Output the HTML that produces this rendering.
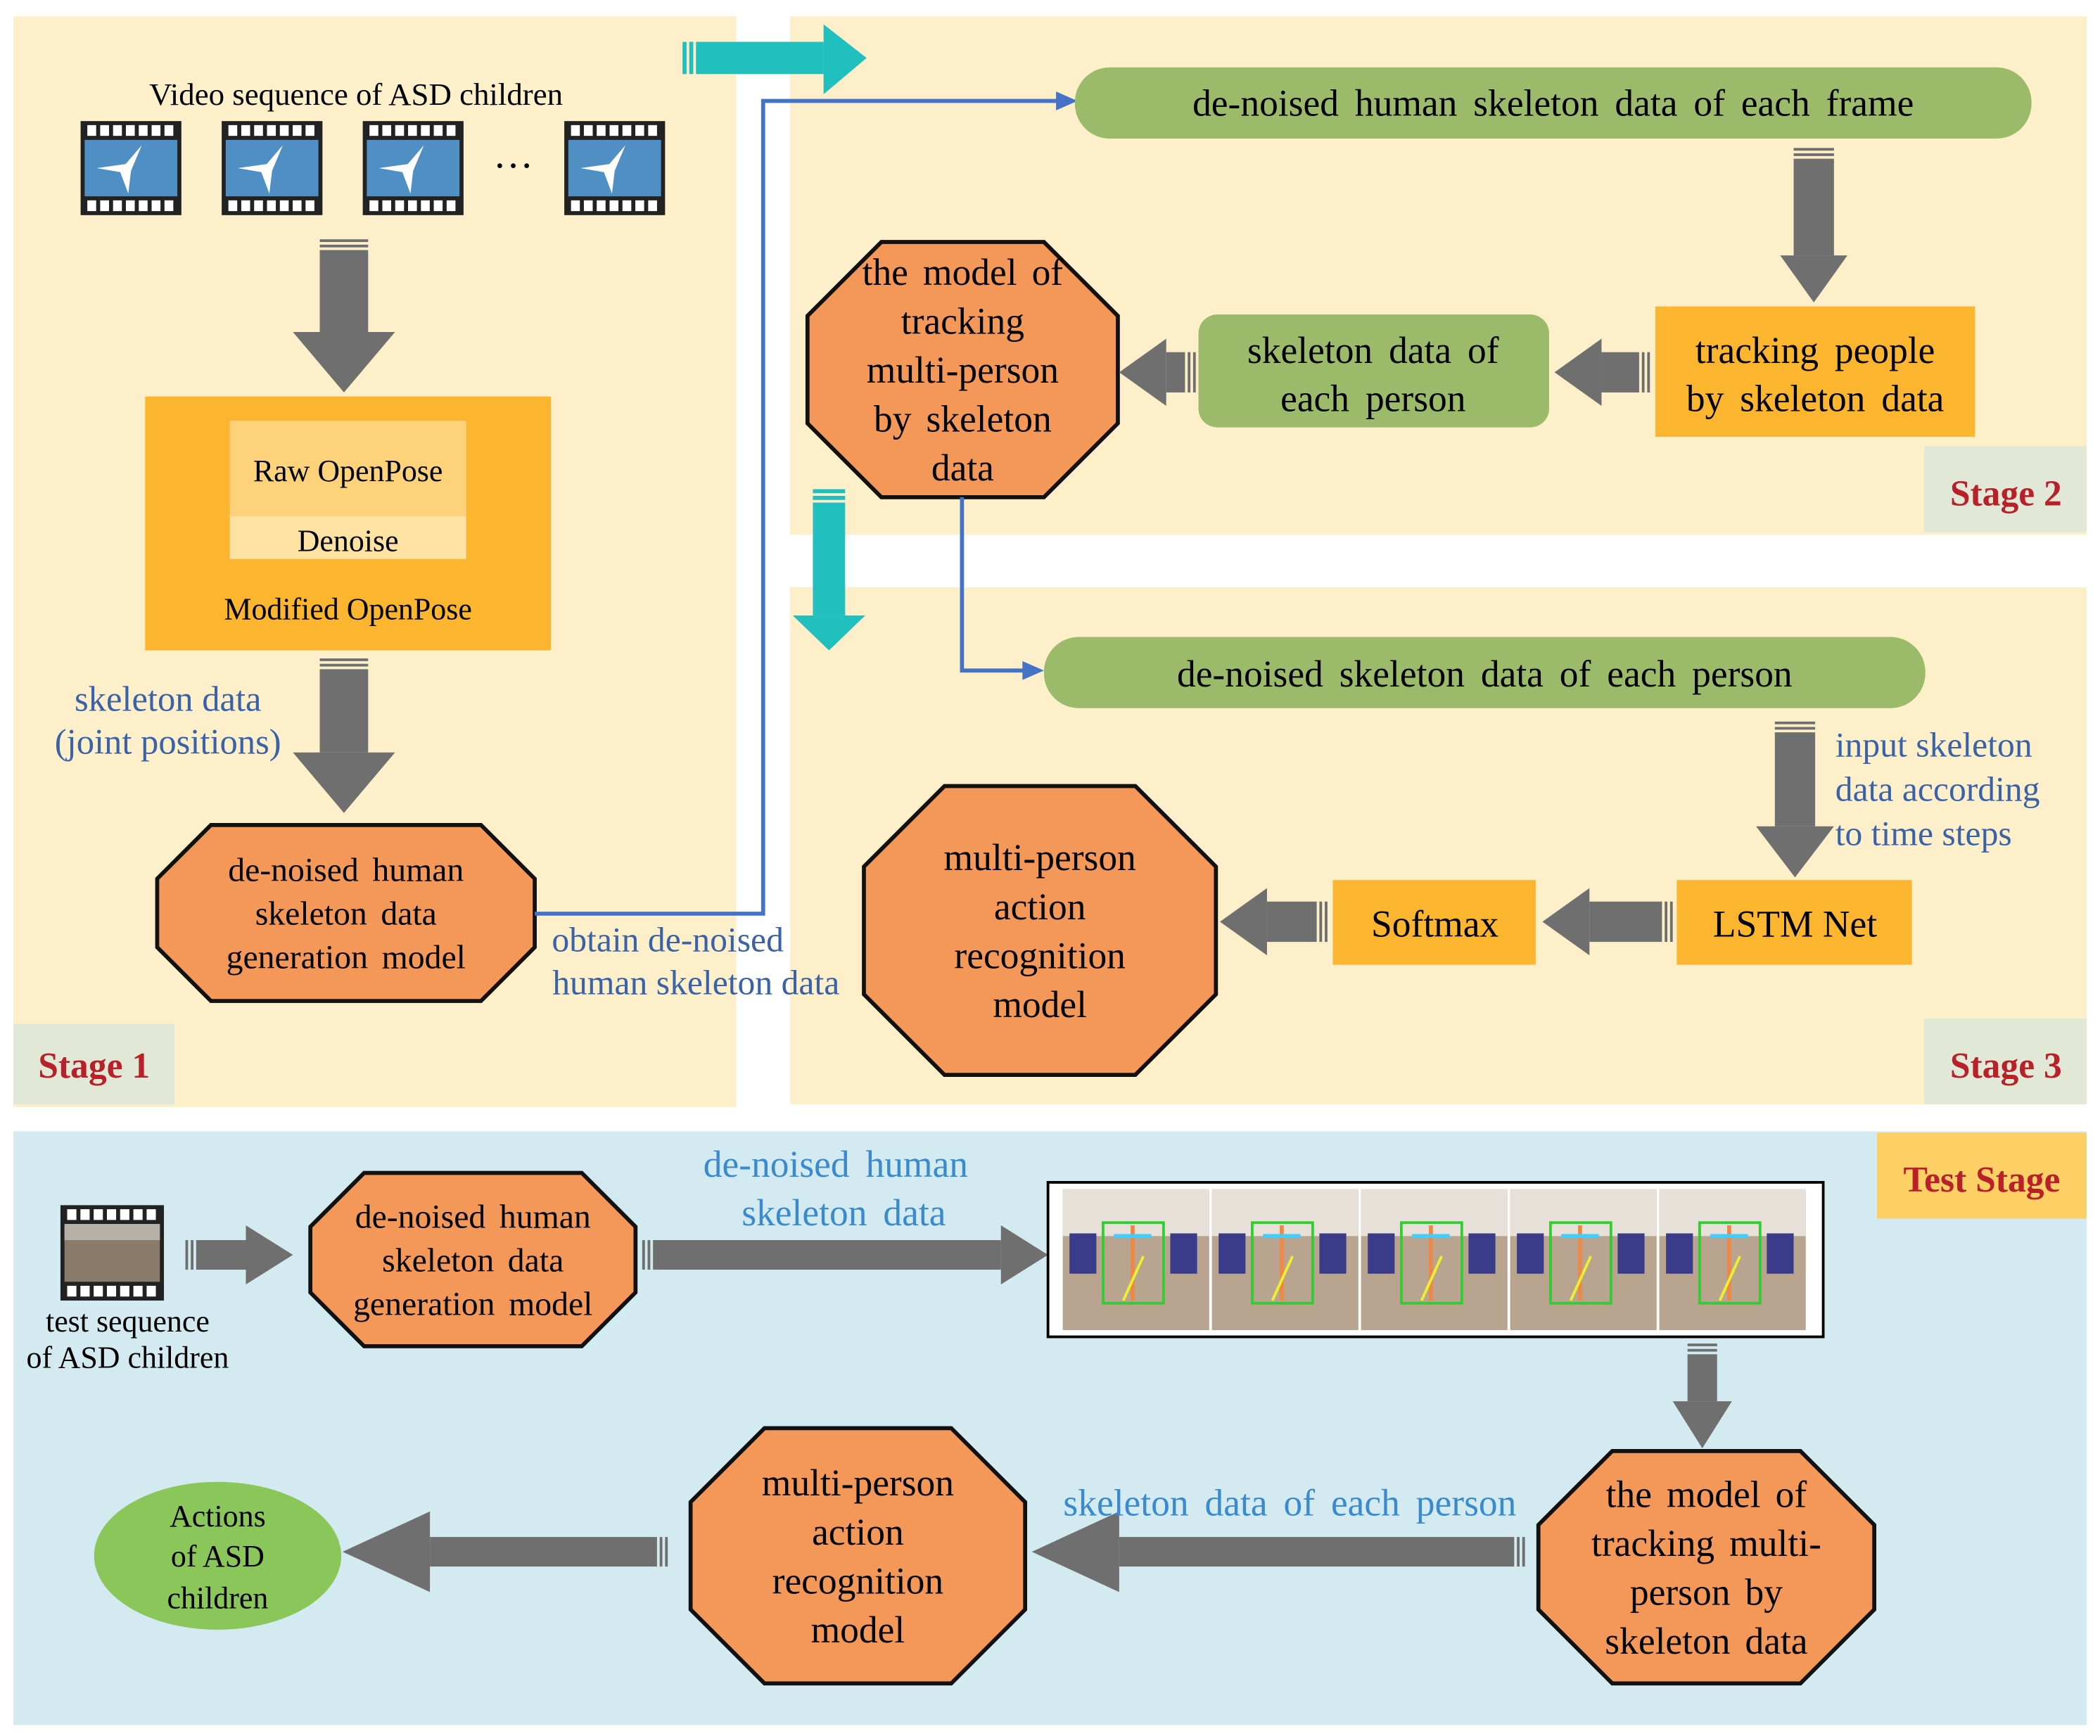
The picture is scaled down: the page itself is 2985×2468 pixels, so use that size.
<!DOCTYPE html>
<html><head><meta charset="utf-8"><style>
html,body{margin:0;padding:0;background:#fff}
svg{display:block}
text{font-family:"Liberation Serif",serif}
</style></head><body>
<svg id="s" width="2985" height="2468" viewBox="0 0 1563 1292" xmlns="http://www.w3.org/2000/svg">
<rect width="1563" height="1292" fill="#fff"/>
<rect x="10" y="12" width="538" height="812" fill="#fdefc9"/>
<rect x="588" y="12" width="965" height="386" fill="#fdefc9"/>
<rect x="588" y="437" width="965" height="385" fill="#fdefc9"/>
<rect x="10" y="842" width="1543" height="442" fill="#d3eaf0"/>
<rect x="10" y="762" width="120" height="60" fill="#e2e8d6"/>
<text x="70" y="802" font-size="27" font-weight="bold" fill="#b8202a" text-anchor="middle">Stage 1</text>
<rect x="1432" y="332" width="121" height="64" fill="#e2e8d6"/>
<text x="1493" y="376" font-size="27" font-weight="bold" fill="#b8202a" text-anchor="middle">Stage 2</text>
<rect x="1432" y="758" width="121" height="64" fill="#e2e8d6"/>
<text x="1493" y="802" font-size="27" font-weight="bold" fill="#b8202a" text-anchor="middle">Stage 3</text>
<rect x="1397" y="843" width="156" height="64" fill="#fdd065"/>
<text x="1475" y="887" font-size="27" font-weight="bold" fill="#b8202a" text-anchor="middle">Test Stage</text>

<g id="films"></g>
<text x="265" y="78" font-size="23.5" text-anchor="middle">Video sequence of ASD children</text>
<text x="382" y="133" font-size="30" text-anchor="middle">···</text>

<rect x="108" y="295" width="302" height="189" fill="#fbb52f"/>
<rect x="171" y="313" width="176" height="71" fill="#fdd27a"/>
<rect x="171" y="384" width="176" height="32" fill="#fde2a3"/>
<text x="259" y="358" font-size="23" text-anchor="middle">Raw OpenPose</text>
<text x="259" y="410" font-size="23" text-anchor="middle">Denoise</text>
<text x="259" y="461" font-size="23" text-anchor="middle">Modified OpenPose</text>

<text x="125" y="529" font-size="26.5" fill="#3a62a8" text-anchor="middle">skeleton data</text>
<text x="125" y="561" font-size="26.5" fill="#3a62a8" text-anchor="middle">(joint positions)</text>

<g id="octs"></g>
<g id="arrows"></g>

<polyline points="398,680 568,680 568,75 792,75" fill="none" stroke="#4472c4" stroke-width="3"/>
<polygon points="802,75 786,68 786,82" fill="#4472c4"/>
<polyline points="716,370 716,499 767,499" fill="none" stroke="#4472c4" stroke-width="3"/>
<polygon points="777,499 761,492 761,506" fill="#4472c4"/>
<text x="497" y="708" font-size="26" fill="#3a62a8" text-anchor="middle">obtain de-noised</text>
<text x="518" y="740" font-size="26" fill="#3a62a8" text-anchor="middle">human skeleton data</text>

<g fill="#22bfbf">
<rect x="508" y="31" width="3" height="24"/><rect x="513" y="31" width="3" height="24"/><rect x="518" y="31" width="95" height="24"/>
<polygon points="613,18 645,43 613,70"/>
<rect x="605" y="364" width="24" height="3"/><rect x="605" y="369" width="24" height="3"/><rect x="605" y="374" width="24" height="84"/>
<polygon points="590,458 644,458 617,484"/>
</g>

<g word-spacing="5">
<rect x="800" y="50" width="712" height="53" rx="26" fill="#9bbb6a"/>
<text x="1156" y="86" font-size="28" text-anchor="middle">de-noised human skeleton data of each frame</text>
<rect x="1232" y="228" width="238" height="97" fill="#fbb52f"/>
<text x="1351" y="270" font-size="28" text-anchor="middle">tracking people</text>
<text x="1351" y="306" font-size="28" text-anchor="middle">by skeleton data</text>
<rect x="892" y="234" width="261" height="84" rx="14" fill="#9bbb6a"/>
<text x="1022" y="270" font-size="28" text-anchor="middle">skeleton data of</text>
<text x="1022" y="306" font-size="28" text-anchor="middle">each person</text>

<rect x="777" y="474" width="656" height="53" rx="26" fill="#9bbb6a"/>
<text x="1105" y="511" font-size="28" text-anchor="middle">de-noised skeleton data of each person</text>
</g>
<text x="1366" y="563" font-size="26" fill="#3a62a8">input skeleton</text>
<text x="1366" y="596" font-size="26" fill="#3a62a8">data according</text>
<text x="1366" y="629" font-size="26" fill="#3a62a8">to time steps</text>
<rect x="1248" y="655" width="175" height="63" fill="#fbb52f"/>
<text x="1336" y="697" font-size="28" text-anchor="middle">LSTM Net</text>
<rect x="992" y="655" width="151" height="63" fill="#fbb52f"/>
<text x="1068" y="697" font-size="28" text-anchor="middle">Softmax</text>

<text x="95" y="991" font-size="23" text-anchor="middle">test sequence</text>
<text x="95" y="1018" font-size="23" text-anchor="middle">of ASD children</text>
<g word-spacing="5">
<text x="622" y="876" font-size="28" fill="#3a8ad0" text-anchor="middle">de-noised human</text>
<text x="628" y="912" font-size="28" fill="#3a8ad0" text-anchor="middle">skeleton data</text>
<text x="960" y="1128" font-size="28" fill="#3a8ad0" text-anchor="middle">skeleton data of each person</text>
</g>
<rect x="780" y="880" width="577" height="115" fill="#fff" stroke="#000" stroke-width="2"/>
<g id="frames"></g>
<ellipse cx="162" cy="1158" rx="92" ry="55" fill="#8bc65a"/>
<text x="162" y="1136" font-size="23" text-anchor="middle">Actions</text>
<text x="162" y="1166" font-size="23" text-anchor="middle">of ASD</text>
<text x="162" y="1197" font-size="23" text-anchor="middle">children</text>
</svg>
<script>
var NS="http://www.w3.org/2000/svg";
function el(p,t,a,txt){var e=document.createElementNS(NS,t);for(var k in a)e.setAttribute(k,a[k]);if(txt)e.textContent=txt;document.getElementById(p).appendChild(e);return e;}
function film(x,y,w,h,photo){
 el("films","rect",{x:x,y:y,width:w,height:h,fill:"#222"});
 var n=7,sw=(w-8)/n;
 for(var i=0;i<n;i++){el("films","rect",{x:x+4+i*sw+1,y:y+3,width:sw-3,height:8,fill:"#fff"});el("films","rect",{x:x+4+i*sw+1,y:y+h-11,width:sw-3,height:8,fill:"#fff"});}
 if(photo){el("films","rect",{x:x+3,y:y+14,width:w-6,height:h-28,fill:"#8a7a6a"});el("films","rect",{x:x+3,y:y+14,width:w-6,height:12,fill:"#b5b0a8"});}
 else{el("films","rect",{x:x+3,y:y+14,width:w-6,height:h-28,fill:"#4f8fc4"});
 el("films","polygon",{points:(x+12)+","+(y+h/2)+" "+(x+w/2-4)+","+(y+h/2-3)+" "+(x+w/2+8)+","+(y+18)+" "+(x+w/2)+","+(y+h/2+2)+" "+(x+w/2-2)+","+(y+h-16)+" "+(x+w/2-8)+","+(y+h/2+3),fill:"#fff"});}
}
[60,165,270,420].forEach(function(x){film(x,90,75,70,false);});
film(45,897,77,71,true);
for(var i=0;i<5;i++){var fx=791+i*111;
 el("frames","rect",{x:fx,y:885,width:109,height:105,fill:"#b9a58f"});
 el("frames","rect",{x:fx,y:885,width:109,height:35,fill:"#e6e0d8"});
 el("frames","rect",{x:fx+5,y:918,width:20,height:30,fill:"#3a3c8a"});
 el("frames","rect",{x:fx+80,y:918,width:20,height:30,fill:"#3a3c8a"});
 el("frames","rect",{x:fx+30,y:910,width:45,height:60,fill:"none",stroke:"#3c3","stroke-width":2});
 el("frames","line",{x1:fx+52,y1:912,x2:fx+52,y2:968,stroke:"#e84","stroke-width":3});
 el("frames","line",{x1:fx+38,y1:920,x2:fx+66,y2:920,stroke:"#4cf","stroke-width":3});
 el("frames","line",{x1:fx+45,y1:968,x2:fx+60,y2:935,stroke:"#ee3","stroke-width":2});
}
function oct(x1,y1,x2,y2,c,lines,fs){
 var pts=[[x1+c,y1],[x2-c,y1],[x2,y1+c],[x2,y2-c],[x2-c,y2],[x1+c,y2],[x1,y2-c],[x1,y1+c]].map(function(p){return p.join(",")}).join(" ");
 el("octs","polygon",{points:pts,fill:"#f4985a",stroke:"#111","stroke-width":3});
 var cx=(x1+x2)/2,cy=(y1+y2)/2,lh=Math.max(fs*1.3,30),st=cy-(lines.length-1)*lh/2+fs*0.35;
 lines.forEach(function(t,i){el("octs","text",{x:cx,y:st+i*lh,"font-size":fs,"text-anchor":"middle","word-spacing":4},t);});
}
oct(117,614,398,745,40,["de-noised human","skeleton data","generation model"],25);
oct(601,180,832,370,55,["the model of","tracking","multi-person","by skeleton","data"],28);
oct(643,585,905,800,60,["multi-person","action","recognition","model"],28);
oct(231,873,473,1002,40,["de-noised human","skeleton data","generation model"],25);
oct(1145,1080,1395,1253,55,["the model of","tracking multi-","person by","skeleton data"],28);
oct(514,1063,763,1253,55,["multi-person","action","recognition","model"],28);
var G="#6f6f6f";
function down(x,y1,y2,sw,hw,hl){
 el("arrows","rect",{x:x-sw/2,y:y1,width:sw,height:2,fill:G});
 el("arrows","rect",{x:x-sw/2,y:y1+4,width:sw,height:2,fill:G});
 el("arrows","rect",{x:x-sw/2,y:y1+8,width:sw,height:y2-hl-y1-8,fill:G});
 el("arrows","polygon",{points:(x-hw/2)+","+(y2-hl)+" "+(x+hw/2)+","+(y2-hl)+" "+x+","+y2,fill:G});
}
function left(y,x1,x2,sw,hw,hl){
 el("arrows","rect",{x:x1-2,y:y-sw/2,width:2,height:sw,fill:G});
 el("arrows","rect",{x:x1-6,y:y-sw/2,width:2,height:sw,fill:G});
 el("arrows","rect",{x:x2+hl,y:y-sw/2,width:x1-8-x2-hl,height:sw,fill:G});
 el("arrows","polygon",{points:(x2+hl)+","+(y-hw/2)+" "+(x2+hl)+","+(y+hw/2)+" "+x2+","+y,fill:G});
}
function right(y,x1,x2,sw,hw,hl){
 el("arrows","rect",{x:x1,y:y-sw/2,width:2,height:sw,fill:G});
 el("arrows","rect",{x:x1+4,y:y-sw/2,width:2,height:sw,fill:G});
 el("arrows","rect",{x:x1+8,y:y-sw/2,width:x2-hl-x1-8,height:sw,fill:G});
 el("arrows","polygon",{points:(x2-hl)+","+(y-hw/2)+" "+(x2-hl)+","+(y+hw/2)+" "+x2+","+y,fill:G});
}
down(256,178,292,36,76,45);
down(256,490,605,36,76,45);
down(1350,110,225,30,50,35);
left(277,1228,1157,30,50,35);
left(277,890,833,30,50,35);
down(1336,537,653,30,58,38);
left(686,1245,1148,30,50,35);
left(686,988,908,30,50,35);
right(934,138,218,22,44,35);
right(934,478,780,22,44,35);
down(1267,1000,1078,22,44,35);
left(1155,1135,768,22,60,65);
left(1155,497,255,22,60,65);
</script>
</body></html>
